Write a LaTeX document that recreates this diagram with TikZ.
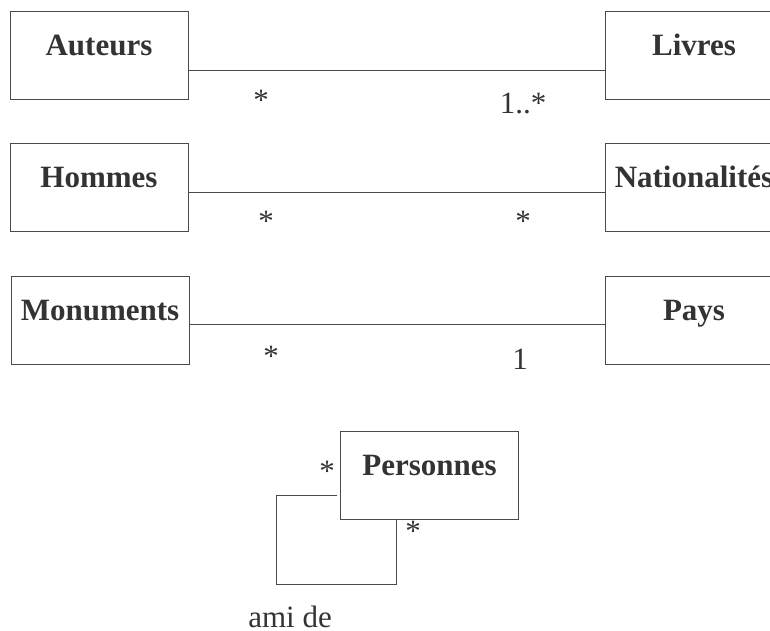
\documentclass[tikz,border=0pt]{standalone}
\usepackage{fontspec}
\setmainfont{Liberation Serif}
\usetikzlibrary{calc}
\definecolor{ink}{HTML}{333333}
\definecolor{rule}{HTML}{4A4A4A}
\begin{document}
\begin{tikzpicture}[x=1pt,y=-1pt,
  classbox/.style={draw=rule,line width=1pt,fill=white,inner sep=0pt,
    minimum width=178pt,text height=44pt,text depth=44pt,
    font=\fontsize{31}{36}\selectfont\bfseries,text=ink},
  mult/.style={anchor=base,inner sep=0pt,font=\fontsize{31}{36}\selectfont,text=ink},
  assoc/.style={draw=rule,line width=1pt}]
\useasboundingbox (0,0) rectangle (770,630);
\clip (0,0) rectangle (770,630);

% classes
\node[classbox] (auteurs)   at (99,55)    {Auteurs};
\node[classbox] (livres)    at (694,55)   {Livres};
\node[classbox] (hommes)    at (99,187)   {Hommes};
\node[classbox] (nation)    at (694,187)  {Nationalités};
\node[classbox] (monuments) at (100,320)  {Monuments};
\node[classbox] (pays)      at (694,320)  {Pays};
\node[classbox] (personnes) at (429.5,475) {Personnes};

% associations
\draw[assoc] ([yshift=-15pt]auteurs.east) -- ([yshift=-15pt]livres.west);
\draw[assoc] ([yshift=-5pt]hommes.east) -- ([yshift=-5pt]nation.west);
\draw[assoc] ([yshift=-4pt]monuments.east) -- ([yshift=-4pt]pays.west);

% reflexive association
\coordinate (amicorner) at (276,584);
\draw[assoc] ([shift={(-3pt,-20pt)}]personnes.west) -| (amicorner)
  -| ([xshift=-33.5pt]personnes.south);

% multiplicities
\node[mult] (m1a) at (261,110) {*};
\node[mult] (m1b) at (523,113) {1..*};
\node[mult] (m2a) at (266,231) {*};
\node[mult] (m2b) at (523,231) {*};
\node[mult] (m3a) at (271,366) {*};
\node[mult] (m3b) at (520,369) {1};
\node[mult] (m4a) at (327,481) {*};
\node[mult] (m4b) at (413,541) {*};
\node[mult] (ami) at (290,627) {ami de};
\end{tikzpicture}
\end{document}
